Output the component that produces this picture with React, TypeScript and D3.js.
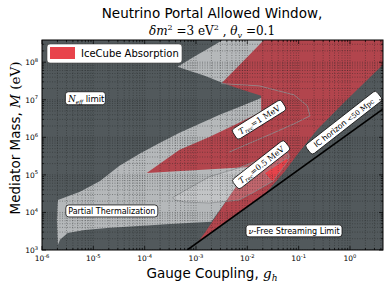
import React from "react";
import * as d3 from "d3";

type P = [number, number];

// region boundaries, as [log10 g_h, log10 M/eV]
const iceCubeRegion: P[] = [
  [-1.67, 8.6], [0.64, 8.6], [0.64, 7.93], [-0.12, 6.92], [-0.64, 6.2], [-0.99, 5.61],
  [-1.28, 5.08], [-1.67, 4.47], [-2.35, 3.8], [-2.97, 3.19], [-2.83, 3.45], [-1.96, 5.21],
  [-3.96, 5.05], [-3.32, 5.67], [-2.74, 6.01], [-2.16, 6.39], [-1.73, 6.68], [-1.73, 7.11],
  [-2.16, 7.29], [-2.49, 7.45],
];

const thermWedge: P[] = [
  [-3.36, 7.88], [-3.03, 8.15], [-2.7, 8.41], [-2.47, 8.6], [-1.57, 8.6], [-2.49, 7.45],
  [-2.83, 7.64], [-3.13, 7.77],
];

const thermBand: P[] = [
  [-5.69, 4.33], [-5.26, 4.55], [-4.87, 4.84], [-4.49, 5.24], [-4.1, 5.56], [-3.71, 5.85],
  [-3.32, 6.12], [-2.93, 6.36], [-2.54, 6.6], [-2.16, 6.81], [-1.73, 7.05], [-1.53, 7.05],
  [-1.53, 5.4], [-1.92, 5.24], [-2.7, 3.75], [-3.51, 3.69], [-4.1, 3.64], [-4.68, 3.59],
  [-5.17, 3.53], [-5.5, 3.45], [-5.65, 3.27], [-5.69, 3.13], [-5.71, 3.8],
];

const trecHalfContour: P[] = [
  [-3.46, 4.39], [-3.13, 4.65], [-2.74, 4.95], [-2.16, 5.19], [-1.67, 5.45], [-1.22, 5.61],
  [-1.18, 5.48], [-1.53, 4.81], [-1.86, 4.55], [-2.16, 4.33], [-2.74, 4.25], [-3.22, 4.28],
  [-3.4, 4.33],
];

const brightPatch: P[] = [[-1.67, 5.05], [-1.22, 5.45], [-1.2, 5.38], [-1.51, 4.81]];

const trecOneContour: P[] = [
  [-2.51, 7.43], [-1.77, 7.37], [-1.09, 7.13], [-0.83, 6.84], [-0.78, 6.57], [-1.09, 6.36],
  [-1.57, 6.07], [-2.35, 5.61],
];

const freeStreamLine: P[] = [[-3.17, 3.0], [0.64, 6.75]];

const xTickExps = [-6, -5, -4, -3, -2, -1, 0];
const yTickExps = [3, 4, 5, 6, 7, 8];

const neffAt: P = [-5.155, 7.04];
const partialAt: P = [-4.64, 4.04];
const trecOneAt: P = [-1.77, 6.47];
const trecHalfAt: P = [-1.73, 5.27];
const icAt: P = [-0.12, 6.39];
const fsAt: P = [-1.09, 3.51];

const W = 390;
const H = 293;
const left = 42;
const right = 383;
const top = 40;
const bottom = 250;

const sans = "DejaVu Sans, sans-serif";
const serif = "DejaVu Serif, serif";

const DARK = "#52595c";
const LIGHT = "#b5b8ba";
const RED = "#b2454d";

export default function App() {
  const x = d3.scaleLog().domain([1e-6, 4.4]).range([left, right]);
  const y = d3.scaleLog().domain([1e3, 3.9e8]).range([bottom, top]);
  const px = (p: P) => x(Math.pow(10, p[0]));
  const py = (p: P) => y(Math.pow(10, p[1]));

  const area = d3.line<P>().x(px).y(py);
  const closed = (pts: P[]) => area(pts) + "Z";

  const minorX: number[] = [];
  for (let e = -6; e <= 0; e++) for (let k = 1; k <= 9; k++) {
    const v = k * Math.pow(10, e);
    if (v >= 1e-6 && v <= 4.4) minorX.push(v);
  }
  const minorY: number[] = [];
  for (let e = 3; e <= 8; e++) for (let k = 1; k <= 9; k++) {
    const v = k * Math.pow(10, e);
    if (v >= 1e3 && v <= 3.9e8) minorY.push(v);
  }

  const box = (at: P, w: number, h: number, angle: number, content: React.ReactNode) => (
    <g transform={`translate(${px(at)},${py(at)}) rotate(${angle})`}>
      <rect x={-w / 2} y={-h / 2} width={w} height={h} rx={3} fill="white" stroke="#111" strokeWidth={0.8} />
      {content}
    </g>
  );

  return (
    <svg width={W} height={H} style={{ position: "absolute", left: 0, top: 0 }}>
      <rect width={W} height={H} fill="white" />
      <defs>
        <clipPath id="plot">
          <rect x={left} y={top} width={right - left} height={bottom - top} />
        </clipPath>
      </defs>

      <g clipPath="url(#plot)">
        <rect x={left} y={top} width={right - left} height={bottom - top} fill={DARK} />
        <path d={closed(thermWedge)} fill={LIGHT} />
        <path d={closed(thermBand)} fill={LIGHT} />
        <path d={closed(iceCubeRegion)} fill={RED} />
        <path d={closed(trecHalfContour)} fill="white" fillOpacity={0.18} stroke="#8e9193" strokeWidth={0.8} />
        <path d={closed(brightPatch)} fill="#e8434b" stroke="#8e9193" strokeWidth={0.6} />
        <path d={area(trecOneContour) || ""} fill="none" stroke="#8e9193" strokeWidth={0.8} />

        {minorX.map((v, i) => (
          <line key={"gx" + i} x1={x(v)} x2={x(v)} y1={top} y2={bottom}
            stroke="#1c1f20" strokeOpacity={0.55} strokeWidth={0.7} strokeDasharray="1 1.5" />
        ))}
        {minorY.map((v, i) => (
          <line key={"gy" + i} x1={left} x2={right} y1={y(v)} y2={y(v)}
            stroke="#1c1f20" strokeOpacity={0.55} strokeWidth={0.7} strokeDasharray="1 1.5" />
        ))}

        <path d={area(freeStreamLine) || ""} stroke="black" strokeWidth={1.6} fill="none" />
      </g>

      {box(neffAt, 40, 13, 0,
        <text x={-17} y={3.5} fontSize={8.5} fontFamily={sans}>
          <tspan fontFamily={serif} fontStyle="italic">N</tspan>
          <tspan fontFamily={serif} fontStyle="italic" fontSize={5.5} dy={2}>eff</tspan>
          <tspan dy={-2}> limit</tspan>
        </text>)}
      {box(partialAt, 92, 12, 0,
        <text x={0} y={3} fontSize={8} fontFamily={sans} textAnchor="middle">Partial Thermalization</text>)}
      {box(trecOneAt, 58, 12, -32,
        <text x={0} y={3} fontSize={8} fontFamily={serif} textAnchor="middle">
          <tspan fontStyle="italic">T</tspan>
          <tspan fontStyle="italic" fontSize={5.5} dy={2}>rec</tspan>
          <tspan dy={-2}>=1 MeV</tspan>
        </text>)}
      {box(trecHalfAt, 66, 12, -38,
        <text x={0} y={3} fontSize={8} fontFamily={serif} textAnchor="middle">
          <tspan fontStyle="italic">T</tspan>
          <tspan fontStyle="italic" fontSize={5.5} dy={2}>rec</tspan>
          <tspan dy={-2}>=0.5 MeV</tspan>
        </text>)}
      {box(icAt, 90, 12, -38,
        <text x={0} y={3} fontSize={7.8} fontFamily={sans} textAnchor="middle">
          IC horizon <tspan fontFamily={serif} fontSize={7}>&lt;50 Mpc</tspan>
        </text>)}
      {box(fsAt, 96, 12, 0,
        <text x={0} y={3} fontSize={8} fontFamily={sans} textAnchor="middle">
          <tspan fontFamily={serif} fontStyle="italic">ν</tspan>-Free Streaming Limit
        </text>)}

      {/* legend */}
      <rect x={47} y={44} width={135} height={19} rx={3} fill="white" stroke="#444" strokeWidth={0.6} />
      <rect x={50} y={47} width={25} height={12} fill="#e8434b" />
      <text x={81} y={57} fontSize={10} fontFamily={sans}>IceCube Absorption</text>

      {/* frame and ticks */}
      <rect x={left} y={top} width={right - left} height={bottom - top} fill="none" stroke="black" strokeWidth={1} />
      {minorX.map((v, i) => {
        const major = Math.abs(Math.log10(v) - Math.round(Math.log10(v))) < 1e-9;
        const l = major ? 4 : 2;
        return (
          <g key={"tx" + i}>
            <line x1={x(v)} x2={x(v)} y1={bottom} y2={bottom - l} stroke="black" strokeWidth={0.7} />
            <line x1={x(v)} x2={x(v)} y1={top} y2={top + l} stroke="black" strokeWidth={0.7} />
          </g>
        );
      })}
      {minorY.map((v, i) => {
        const major = Math.abs(Math.log10(v) - Math.round(Math.log10(v))) < 1e-9;
        const l = major ? 4 : 2;
        return (
          <g key={"ty" + i}>
            <line x1={left} x2={left + l} y1={y(v)} y2={y(v)} stroke="black" strokeWidth={0.7} />
            <line x1={right} x2={right - l} y1={y(v)} y2={y(v)} stroke="black" strokeWidth={0.7} />
          </g>
        );
      })}

      {xTickExps.map((e) => (
        <text key={"xl" + e} x={x(Math.pow(10, e))} y={261} fontSize={7.5} fontFamily={sans} textAnchor="middle">
          10<tspan fontSize={5.2} dy={-3.5}>{e}</tspan>
        </text>
      ))}
      {yTickExps.map((e) => (
        <text key={"yl" + e} x={38} y={y(Math.pow(10, e)) + 3} fontSize={7.5} fontFamily={sans} textAnchor="end">
          10<tspan fontSize={5.2} dy={-3.5}>{e}</tspan>
        </text>
      ))}

      {/* titles */}
      <text x={212} y={18} fontSize={13.5} fontFamily={sans} textAnchor="middle">Neutrino Portal Allowed Window,</text>
      <text x={212} y={35} fontSize={12} fontFamily={serif} textAnchor="middle">
        <tspan fontStyle="italic">δm</tspan>
        <tspan fontSize={8} dy={-5}>2</tspan>
        <tspan dy={5}> =3 eV</tspan>
        <tspan fontSize={8} dy={-5}>2</tspan>
        <tspan dy={5}> , </tspan>
        <tspan fontStyle="italic">θ</tspan>
        <tspan fontStyle="italic" fontSize={8} dy={3}>v</tspan>
        <tspan dy={-3}> =0.1</tspan>
      </text>
      <text x={212} y={278} fontSize={13.5} fontFamily={sans} textAnchor="middle">
        Gauge Coupling, <tspan fontFamily={serif} fontStyle="italic">g</tspan>
        <tspan fontFamily={serif} fontStyle="italic" fontSize={9} dy={3}>h</tspan>
      </text>
      <text transform="translate(20,138) rotate(-90)" fontSize={13.5} fontFamily={sans} textAnchor="middle">
        Mediator Mass, <tspan fontFamily={serif} fontStyle="italic">M</tspan>
        <tspan fontFamily={serif}> (eV)</tspan>
      </text>
    </svg>
  );
}
